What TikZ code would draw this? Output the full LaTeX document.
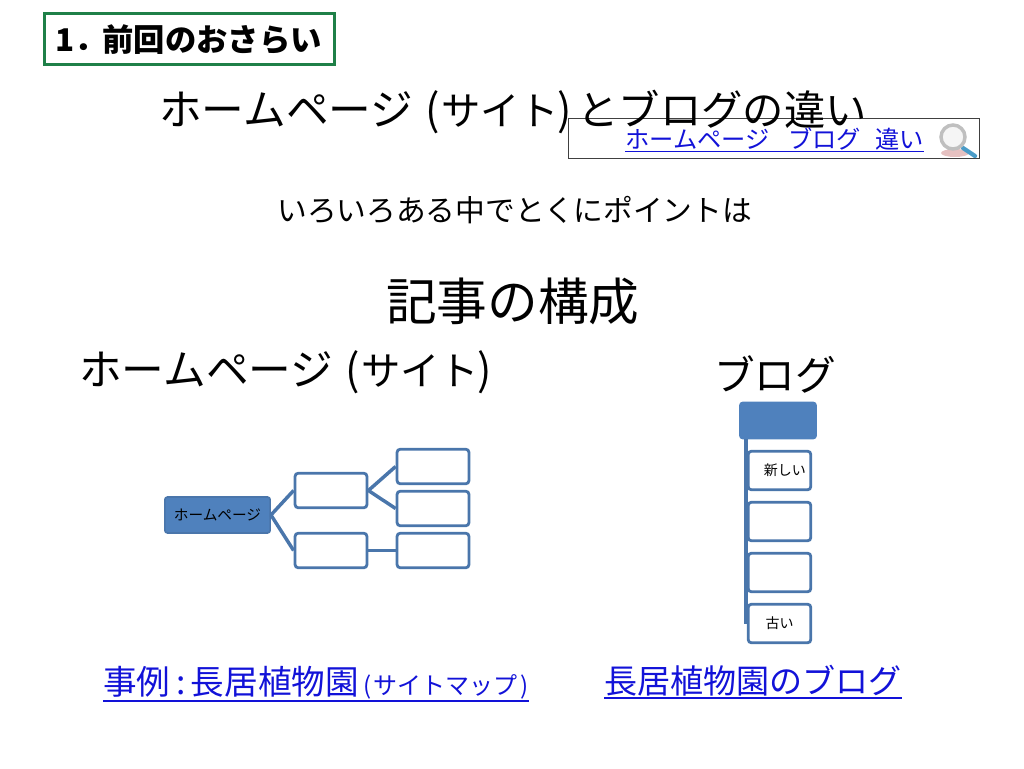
\documentclass[tikz,border=0pt]{standalone}
\usepackage{fontspec}
\setmainfont{Noto Sans CJK JP}
\begin{document}
\begin{tikzpicture}[x=0.75pt, y=-0.75pt]

  % Define Colors
  \definecolor{framegreen}{HTML}{1F8048}
  \definecolor{boxblue}{HTML}{4F81BD}
  \definecolor{lineblue}{HTML}{4A76AB}
  \definecolor{linkblue}{HTML}{1212D8}
  \definecolor{glassblue}{HTML}{4A9CC8}

  % Node styles
  \tikzstyle{txt}=[inner sep=0pt, anchor=base west, text=black]
  \tikzstyle{link}=[inner sep=0pt, anchor=base west, text=linkblue]
  \tikzstyle{qbox}=[rectangle, draw=lineblue, line width=2.1pt, rounded corners=2.5pt, fill=white, minimum width=54pt, minimum height=26pt, inner sep=0pt]
  \tikzstyle{qblog}=[qbox, minimum width=47pt, minimum height=29pt, font=\fontsize{10.5pt}{12pt}\selectfont]
  \tikzstyle{qhead}=[rectangle, draw=boxblue, line width=1.2pt, rounded corners=2pt, fill=boxblue, inner sep=0pt]
  \tikzstyle{A_path}=[line width=2.6pt, lineblue]
  \tikzstyle{L_path}=[line width=1pt, linkblue]

  \useasboundingbox (0,0) rectangle (1024,768);

  % Search box
  \node[rectangle, draw=black!75, line width=1pt, minimum width=308pt, minimum height=30pt, inner sep=0pt] (n_search) at (774,138.5) {};

  % Headings
  \node[rectangle, draw=framegreen, line width=2.2pt, minimum width=218pt, minimum height=38.5pt, inner sep=0pt] (n_sec) at (189.5,39) {};
  \node[txt, font=\fontsize{23.5pt}{26pt}\selectfont\bfseries] (t_sec) at (55,51) {1．\hspace{-2.5pt}前回のおさらい};
  \node[txt, font=\fontsize{32pt}{36pt}\selectfont] (t_title) at (159,125) {ホームページ\hspace{0.3em}(\hspace{0.02em}{\fontsize{29.5pt}{36pt}\selectfont サイト}\hspace{-0.05em})\hspace{0.14em}{\fontsize{31pt}{36pt}\selectfont とブログの違い}};
  \node[txt, font=\fontsize{22.3pt}{26pt}\selectfont] (t_point) at (277,221) {いろいろある中でとくにポイントは};
  \node[txt, font=\fontsize{38pt}{42pt}\selectfont] (t_kiji) at (386,320) {記事の構成};
  \node[txt, font=\fontsize{32pt}{36pt}\selectfont] (t_home) at (79,385) {ホームページ\hspace{0.3em}(\hspace{0.02em}{\fontsize{29.5pt}{36pt}\selectfont サイト}\hspace{-0.05em})};
  \node[txt, font=\fontsize{30.5pt}{36pt}\selectfont] (t_blog) at (714,390) {ブログ};

  % Search link
  \node[link, font=\fontsize{18.2pt}{20pt}\selectfont] (n_query) at (625,148.5) {ホームページ\hspace{0.76em}ブログ\hspace{0.6em}違い};
  \draw[L_path] ([yshift=-0.5pt]n_query.south west) -- ([yshift=-0.5pt]n_query.south east);

  % Magnifier
  \fill[black!40!red!30!white, opacity=0.8] (955,153) ellipse (14 and 4);
  \draw[line width=3.2pt, glassblue, line cap=round] (963,148) -- (975,156);
  \draw[line width=2.6pt, black!25, fill=black!4] (953,137) circle (12);

  % Site tree nodes
  \node[qhead, minimum width=79pt, minimum height=27pt, draw=lineblue, font=\fontsize{11pt}{12pt}\selectfont] (n_root) at (217.5,515) {ホームページ};
  \node[qbox] (n_a) at (331,490.5) {};
  \node[qbox] (n_b) at (331,550.5) {};
  \node[qbox] (n_a1) at (433,466.5) {};
  \node[qbox] (n_a2) at (433,508.5) {};
  \node[qbox] (n_b1) at (433,550.5) {};

  % Site tree links
  \draw[A_path] (n_root.east) -- (n_a.west);
  \draw[A_path] (n_root.east) -- (n_b.west);
  \draw[A_path] (n_a.east) -- (n_a1.west);
  \draw[A_path] (n_a.east) -- (n_a2.west);
  \draw[A_path] (n_b.east) -- (n_b1.west);

  % Blog nodes
  \node[qhead, minimum width=57pt, minimum height=27pt] (n_head) at (778,420.5) {};
  \node[qblog] (n_new) at (779.5,470.5) {\hspace{8pt}新しい};
  \node[qblog] (n_p2) at (779.5,521.5) {};
  \node[qblog] (n_p3) at (779.5,572.5) {};
  \node[qblog] (n_old) at (779.5,623.5) {古い};
  \coordinate (c_top) at (746,439);
  \coordinate (c_bot) at (746,624);
  \draw[A_path] (c_top) -- (c_bot);

  % Links
  \node[link, font=\fontsize{25.2pt}{28pt}\selectfont] (n_case) at (103,694) {事例\,:\,長居植物園\hspace{3pt}{\fontsize{18pt}{20pt}\selectfont (\hspace{0.12em}サイトマップ\hspace{0.1em})}};
  \draw[L_path] ([yshift=-1.5pt]n_case.south west) -- ([yshift=-1.5pt]n_case.south east);
  \node[link, font=\fontsize{24.8pt}{28pt}\selectfont] (n_site) at (604,693) {長居植物園のブログ};
  \draw[L_path] ([yshift=-1.5pt]n_site.south west) -- ([yshift=-1.5pt]n_site.south east);

\end{tikzpicture}
\end{document}
